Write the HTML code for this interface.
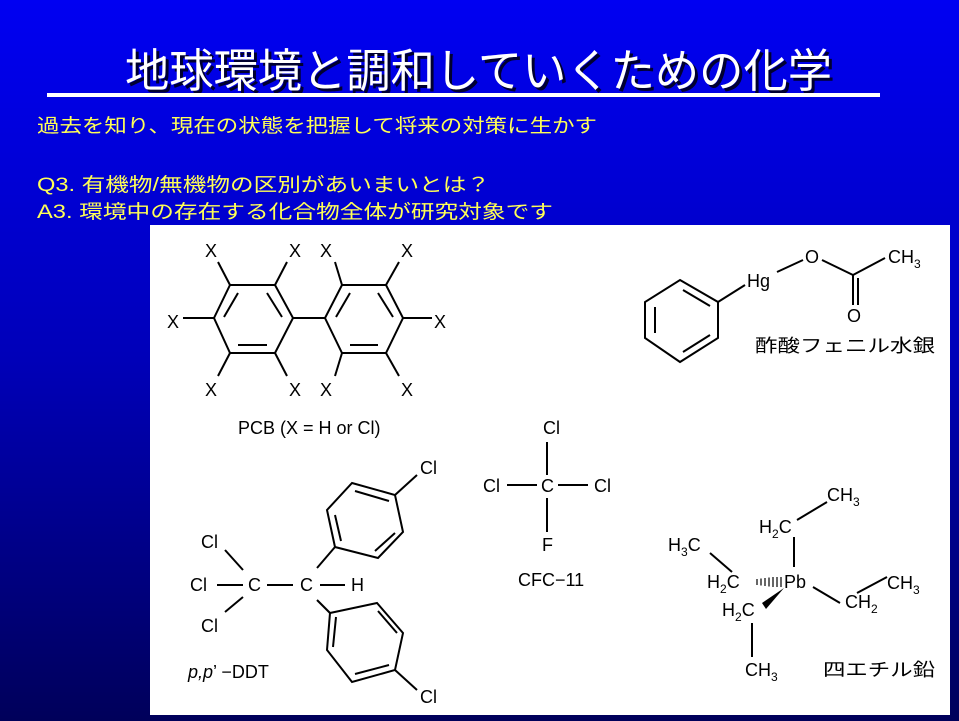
<!DOCTYPE html>
<html><head><meta charset="utf-8"><style>
html,body{margin:0;padding:0;width:959px;height:721px;overflow:hidden}
svg{display:block}
.t{font-family:"Liberation Sans","Noto Sans CJK JP",sans-serif}
.c{font-family:"Liberation Sans","Noto Sans CJK JP",sans-serif;font-size:18px;fill:#000}
.s{font-size:12px}
</style></head><body>
<svg width="959" height="721" viewBox="0 0 959 721" xmlns="http://www.w3.org/2000/svg">
<defs><linearGradient id="g" x1="0" y1="0" x2="0" y2="1">
<stop offset="0" stop-color="#0000f2"/><stop offset="0.5" stop-color="#0000b8"/><stop offset="1" stop-color="#00005a"/></linearGradient></defs>
<rect width="959" height="721" fill="url(#g)"/>
<text class="t" x="128" y="90" font-size="46" fill="#000030" textLength="707" lengthAdjust="spacingAndGlyphs">地球環境と調和していくための化学</text>
<text class="t" x="125" y="87" font-size="46" fill="#fff" textLength="707" lengthAdjust="spacingAndGlyphs">地球環境と調和していくための化学</text>
<rect x="47" y="93" width="833" height="4" fill="#fff"/>
<g class="t" font-size="19" fill="#ffff55">
<text x="37" y="132" textLength="560" lengthAdjust="spacingAndGlyphs">過去を知り、現在の状態を把握して将来の対策に生かす</text>
<text x="37" y="191" textLength="453" lengthAdjust="spacingAndGlyphs">Q3. 有機物/無機物の区別があいまいとは？</text>
<text x="37" y="218" textLength="516" lengthAdjust="spacingAndGlyphs">A3. 環境中の存在する化合物全体が研究対象です</text>
</g>
<rect x="150" y="225" width="800" height="490" fill="#fff"/>
<g stroke="#000" stroke-width="2" fill="none">
<!-- PCB left ring -->
<polygon points="230,285 275,285 293,318 275,353 230,353 214,318"/>
<line x1="238" y1="293" x2="224" y2="317"/><line x1="267" y1="293" x2="282" y2="317"/><line x1="238" y1="345" x2="267" y2="345"/>
<polygon points="342,285 386,285 403,318 386,353 342,353 325,318"/>
<line x1="350" y1="293" x2="336" y2="317"/><line x1="378" y1="293" x2="393" y2="317"/><line x1="350" y1="345" x2="378" y2="345"/>
<line x1="293" y1="318" x2="325" y2="318"/>
<line x1="218" y1="262" x2="230" y2="285"/><line x1="287" y1="262" x2="275" y2="285"/>
<line x1="335" y1="262" x2="342" y2="285"/><line x1="399" y1="262" x2="386" y2="285"/>
<line x1="183" y1="318" x2="214" y2="318"/><line x1="403" y1="318" x2="432" y2="318"/>
<line x1="218" y1="376" x2="230" y2="353"/><line x1="287" y1="376" x2="275" y2="353"/>
<line x1="335" y1="376" x2="342" y2="353"/><line x1="399" y1="376" x2="386" y2="353"/>
<!-- DDT -->
<polygon points="352,483 395,495 403,532 378,558 335,547 327,510"/>
<line x1="355" y1="491" x2="389" y2="501"/><line x1="395" y1="533" x2="375" y2="551"/><line x1="335" y1="515" x2="341" y2="541"/>
<line x1="395" y1="495" x2="417" y2="475"/>
<line x1="317" y1="568" x2="335" y2="547"/>
<polygon points="330,613 377,603 403,633 395,670 352,682 327,650"/>
<line x1="378" y1="611" x2="397" y2="633"/><line x1="389" y1="665" x2="355" y2="674"/><line x1="336" y1="617" x2="333" y2="647"/>
<line x1="395" y1="670" x2="417" y2="690"/>
<line x1="317" y1="600" x2="330" y2="613"/>
<line x1="217" y1="585" x2="243" y2="585"/><line x1="225" y1="550" x2="243" y2="570"/><line x1="225" y1="612" x2="243" y2="597"/>
<line x1="267" y1="585" x2="293" y2="585"/><line x1="320" y1="585" x2="345" y2="585"/>
<!-- CFC -->
<line x1="547" y1="442" x2="547" y2="475"/><line x1="547" y1="498" x2="547" y2="532"/>
<line x1="507" y1="485" x2="537" y2="485"/><line x1="558" y1="485" x2="588" y2="485"/>
<!-- phenylmercuric acetate -->
<polygon points="680,280 718,302 718,338 680,362 645,338 645,302"/>
<line x1="655" y1="307" x2="655" y2="333"/><line x1="683" y1="290" x2="710" y2="306"/><line x1="683" y1="352" x2="710" y2="335"/>
<line x1="718" y1="302" x2="745" y2="285"/>
<line x1="777" y1="272" x2="803" y2="260"/><line x1="822" y1="260" x2="853" y2="275"/><line x1="853" y1="275" x2="885" y2="258"/>
<line x1="853" y1="275" x2="853" y2="305"/><line x1="858" y1="278" x2="858" y2="305"/>
<!-- tetraethyllead -->
<line x1="797" y1="520" x2="827" y2="502"/><line x1="794" y1="537" x2="794" y2="567"/>
<line x1="710" y1="553" x2="732" y2="572"/>
<line x1="752" y1="623" x2="752" y2="657"/>
<line x1="813" y1="587" x2="840" y2="603"/><line x1="857" y1="593" x2="887" y2="577"/>
</g>
<g stroke="#000" stroke-width="1.2">
<line x1="757" y1="579" x2="757" y2="585"/><line x1="761" y1="578.5" x2="761" y2="585.5"/><line x1="765" y1="578" x2="765" y2="586"/><line x1="769" y1="577.5" x2="769" y2="586.5"/><line x1="773" y1="577" x2="773" y2="587"/><line x1="777" y1="577" x2="777" y2="587"/><line x1="781" y1="577" x2="781" y2="587"/>
</g>
<polygon points="784,588 762,603 766,609" fill="#000"/>
<g class="c">
<text x="205" y="257">X</text><text x="289" y="257">X</text><text x="320" y="257">X</text><text x="401" y="257">X</text>
<text x="167" y="328">X</text><text x="434" y="328">X</text>
<text x="205" y="396">X</text><text x="289" y="396">X</text><text x="320" y="396">X</text><text x="401" y="396">X</text>
<text x="238" y="434">PCB (X = H or Cl)</text>
<text x="420" y="474">Cl</text><text x="420" y="703">Cl</text>
<text x="201" y="548">Cl</text><text x="190" y="591">Cl</text><text x="201" y="632">Cl</text>
<text x="248" y="591">C</text><text x="300" y="591">C</text><text x="351" y="591">H</text>
<text x="188" y="678"><tspan font-style="italic">p,p</tspan>’ −DDT</text>
<text x="543" y="434">Cl</text><text x="483" y="492">Cl</text><text x="541" y="492">C</text><text x="594" y="492">Cl</text><text x="542" y="551">F</text>
<text x="518" y="586">CFC−11</text>
<text x="747" y="287">Hg</text><text x="805" y="263">O</text><text x="847" y="322">O</text>
<text x="888" y="263">CH<tspan class="s" dy="5">3</tspan></text>
<text x="755" y="352" textLength="180" lengthAdjust="spacingAndGlyphs">酢酸フェニル水銀</text>
<text x="759" y="533">H<tspan class="s" dy="5">2</tspan><tspan dy="-5">C</tspan></text>
<text x="827" y="501">CH<tspan class="s" dy="5">3</tspan></text>
<text x="668" y="551">H<tspan class="s" dy="5">3</tspan><tspan dy="-5">C</tspan></text>
<text x="707" y="588">H<tspan class="s" dy="5">2</tspan><tspan dy="-5">C</tspan></text>
<text x="784" y="588">Pb</text>
<text x="722" y="616">H<tspan class="s" dy="5">2</tspan><tspan dy="-5">C</tspan></text>
<text x="745" y="676">CH<tspan class="s" dy="5">3</tspan></text>
<text x="845" y="608">CH<tspan class="s" dy="5">2</tspan></text>
<text x="887" y="589">CH<tspan class="s" dy="5">3</tspan></text>
<text x="823" y="676" textLength="112" lengthAdjust="spacingAndGlyphs">四エチル鉛</text>
</g>
</svg>
</body></html>
